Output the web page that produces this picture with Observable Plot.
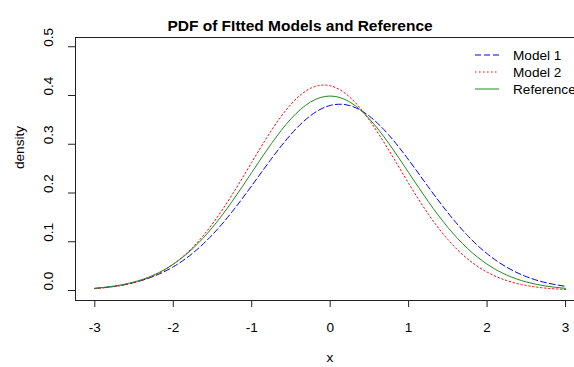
<!DOCTYPE html>
<html><head><meta charset="utf-8">
<script src="https://cdn.jsdelivr.net/npm/d3@7"></script>
<script src="https://cdn.jsdelivr.net/npm/@observablehq/plot@0.6"></script>
<style>body{margin:0;background:#fff;} svg{display:block;}</style>
</head><body><div id="chart"></div>
<script>
const xs = [-3,-2.75,-2.5,-2.25,-2,-1.75,-1.5,-1.25,-1,-0.75,-0.5,-0.25,0,0.25,0.5,0.75,1,1.25,1.5,1.75,2,2.25,2.5,2.75,3];
const model1 = [0.0044,0.0087,0.0164,0.0291,0.0486,0.0768,0.1146,0.1615,0.2149,0.2700,0.3203,0.3588,0.3796,0.3792,0.3576,0.3185,0.2679,0.2127,0.1595,0.1129,0.0755,0.0477,0.0284,0.0160,0.0085];
const model2 = [0.0036,0.0079,0.0160,0.0304,0.0539,0.0889,0.1368,0.1963,0.2628,0.3281,0.3820,0.4148,0.4200,0.3966,0.3493,0.2870,0.2198,0.1570,0.1046,0.0650,0.0377,0.0204,0.0103,0.0048,0.0021];
const reference = [0.0044,0.0091,0.0175,0.0317,0.0540,0.0863,0.1295,0.1826,0.2420,0.3011,0.3521,0.3867,0.3989,0.3867,0.3521,0.3011,0.2420,0.1826,0.1295,0.0863,0.0540,0.0317,0.0175,0.0091,0.0044];
const xTicks = [-3,-2,-1,0,1,2,3];
const yTicks = [0,0.1,0.2,0.3,0.4,0.5];
const seriesNames = ["Model 1","Model 2","Reference"];
const seriesColors = ["#0000FF","#FF0000","#228B22"];
const seriesDash = ["6,3","1.5,2.5",null];
const titleText = "PDF of FItted Models and Reference";
const xLabel = "x";
const yLabel = "density";

const seriesValues = [model1, model2, reference];
const FONT = "'Liberation Sans', Arial, Helvetica, sans-serif";
const xDomain = [-3.246, 3.114];
const yDomain = [-0.0205, 0.519];

const lineMarks = seriesNames.map((name, i) => {
  const rows = xs.map((x, j) => ({x, y: seriesValues[i][j], series: name}));
  return Plot.line(rows, {x: "x", y: "y", stroke: seriesColors[i], strokeWidth: 1, strokeDasharray: seriesDash[i] ?? undefined, curve: "natural"});
});

const plot = Plot.plot({
  width: 574,
  height: 367,
  marginLeft: 75,
  marginRight: 0,
  marginTop: 37,
  marginBottom: 67,
  style: {fontFamily: FONT, fontSize: "13.6px", background: "white", color: "black"},
  x: {domain: xDomain},
  y: {domain: yDomain},
  marks: [
    Plot.ruleX([xDomain[0]], {stroke: "#222", strokeWidth: 1}),
    Plot.ruleY([yDomain[0], yDomain[1]], {stroke: "#222", strokeWidth: 1}),
    Plot.axisX({ticks: xTicks, tickSize: 7, tickPadding: 15, tickFormat: d => String(d), label: null, fontSize: 13.6, stroke: "#222"}),
    Plot.axisY({ticks: yTicks, tickSize: 7, tickFormat: () => "", label: null, stroke: "#222"}),
    Plot.text(yTicks, {y: d => d, text: d => d.toFixed(1), frameAnchor: "left", dx: -27, rotate: -90, fontSize: 13.6}),
    Plot.text([yLabel], {text: d => d, frameAnchor: "left", dx: -56, rotate: -90, fontSize: 13.6}),
    Plot.text([xLabel], {text: d => d, frameAnchor: "bottom", dx: 5, dy: 61, fontSize: 13.6}),
    Plot.text([titleText], {text: d => d, frameAnchor: "top", dx: -25, dy: -18, fontSize: 15.5, fontWeight: "bold"}),
    ...lineMarks
  ]
});

const svg = d3.select(plot);
const lg = svg.append("g").attr("font-family", FONT).attr("font-size", 13.6).attr("text-anchor", "start");
seriesNames.forEach((name, i) => {
  const y = 55 + i * 17;
  const ln = lg.append("line").attr("x1", 475).attr("x2", 499).attr("y1", y).attr("y2", y)
    .style("stroke", seriesColors[i]).style("stroke-width", "1px").style("fill", "none");
  if (seriesDash[i]) ln.style("stroke-dasharray", seriesDash[i]);
  lg.append("text").attr("x", 513).attr("y", y).attr("dy", "0.35em").style("fill", "black").attr("text-anchor", "start").text(name);
});

document.getElementById("chart").appendChild(plot);
</script>
</body></html>
